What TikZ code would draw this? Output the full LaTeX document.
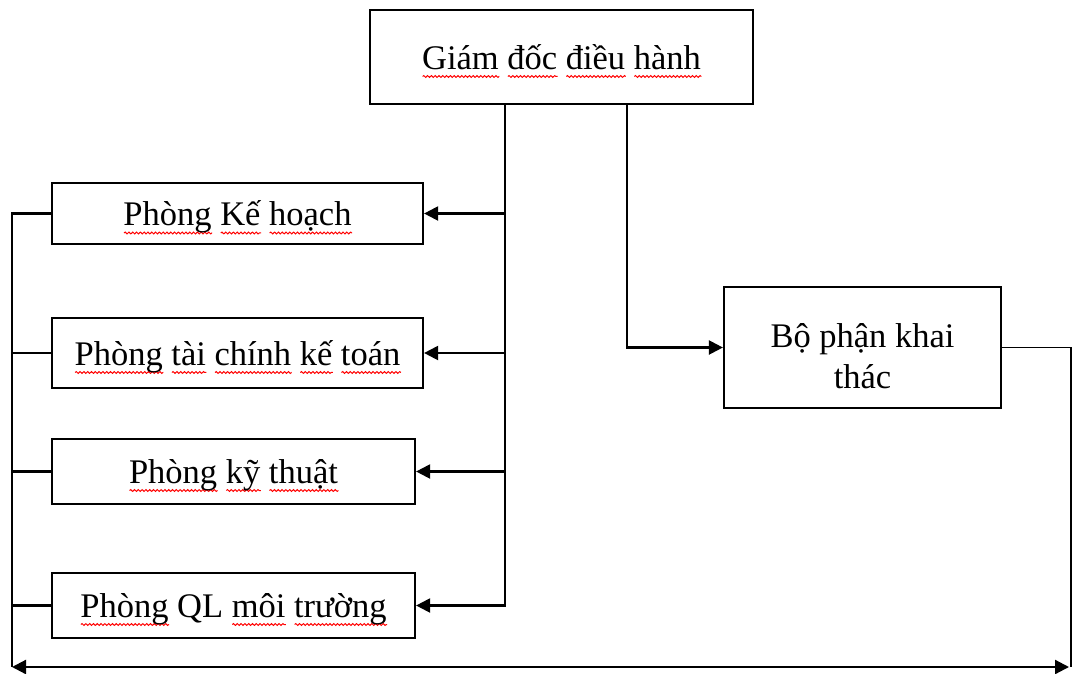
\documentclass[tikz,border=0pt]{standalone}
\usepackage{fontspec}
\setmainfont{Liberation Serif}
\usetikzlibrary{arrows.meta,decorations.pathmorphing}
\newsavebox\wvbox
\newcommand\wv[1]{\sbox\wvbox{#1}\rlap{\smash{\tikz[baseline=0pt]\draw[red,line width=1pt,decorate,decoration={snake,amplitude=0.9pt,segment length=3.8pt}] (0pt,-7pt)--(\wd\wvbox,-7pt);}}\usebox\wvbox}
\begin{document}
\begin{tikzpicture}[x=1pt,y=-1pt,
  box/.style={draw,line width=2.2pt,align=center,inner sep=2pt,text depth=0pt,font=\fontsize{34.5}{41}\selectfont},
  conn/.style={line width=2.2pt},
  arr/.style={conn,-{Triangle[length=14pt,width=14pt]}},
  arrboth/.style={conn,{Triangle[length=14pt,width=14pt]}-{Triangle[length=14pt,width=14pt]}}]
\useasboundingbox (0,0) rectangle (1072,673);
\node[box,minimum width=383pt,minimum height=94pt] (top) at (561.5,57) {\wv{Giám} \wv{đốc} \wv{điều} \wv{hành}};
\node[box,minimum width=277pt,minimum height=121pt,text height=82pt] (bp) at (862.5,347.5) {Bộ phận khai\\thác};
\node[box,minimum width=371pt,minimum height=61pt] (k1) at (237.5,213.5) {\wv{Phòng} \wv{Kế} \wv{hoạch}};
\node[box,minimum width=371pt,minimum height=70pt] (k2) at (237.5,353) {\wv{Phòng} \wv{tài} \wv{chính} \wv{kế} \wv{toán}};
\node[box,minimum width=363pt,minimum height=65pt] (k3) at (233.5,471.5) {\wv{Phòng} \wv{kỹ} \wv{thuật}};
\node[box,minimum width=363pt,minimum height=65pt] (k4) at (233.5,605.5) {\wv{Phòng} QL \wv{môi} \wv{trường}};
\coordinate (trunk) at (505,0);
\coordinate (trunkb) at (627,0);
\coordinate (lb) at (12,667);
\coordinate (rb) at (1071,667);
\coordinate (rbt) at (1069,667);
% from director to departments
\draw[arr] (top.south -| trunk) |- (k4.east);
\draw[arr] (k1.east -| trunk) -- (k1.east);
\draw[arr] (k2.east -| trunk) -- (k2.east);
\draw[arr] (k3.east -| trunk) -- (k3.east);
\draw[arr] (top.south -| trunkb) |- (bp.west);
% right return
\draw[conn,line width=1.4pt] (bp.east) -| (rb);
% left bus
\draw[conn] (k1.west) -| (lb);
\draw[conn] (k2.west) -- (k2.west -| lb);
\draw[conn] (k3.west) -- (k3.west -| lb);
\draw[conn] (k4.west) -- (k4.west -| lb);
% bottom double arrow
\draw[arrboth] (lb) -- (rbt);
\end{tikzpicture}
\end{document}
